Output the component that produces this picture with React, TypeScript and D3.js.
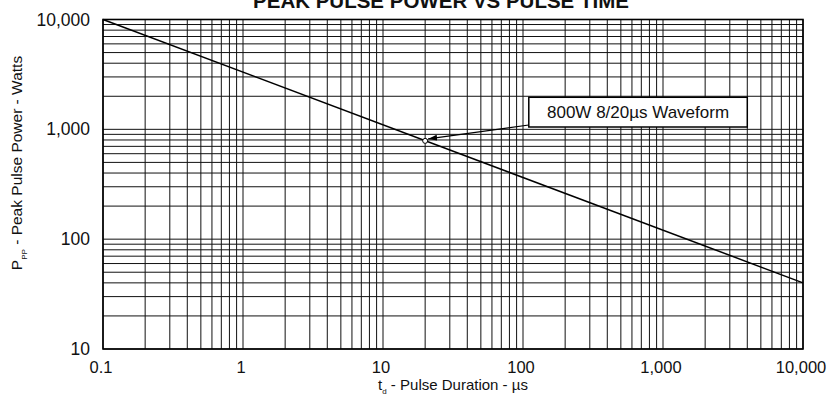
import { useRef, useEffect } from "react";
import * as d3 from "d3";

// tick values and their printed labels
const xTickValues = [0.1, 1, 10, 100, 1000, 10000];
const xTickLabels = ["0.1", "1", "10", "100", "1,000", "10,000"];
const yTickValues = [10, 100, 1000, 10000];
const yTickLabels = ["10", "100", "1,000", "10,000"];

// the derating line (pulse duration in µs, peak power in W)
const pulseTime = [0.1, 10000];
const pulsePower = [10000, 40];

// marked waveform point
const markerTime = [20];
const markerPower = [785];
const markerLabel = ["800W 8/20µs Waveform"];

export default function App() {
  const svgRef = useRef<SVGSVGElement>(null);

  useEffect(() => {
    if (!svgRef.current) return;

    const width = 828;
    const height = 403;
    const margin = { top: 19.5, right: 25, bottom: 54, left: 103 };
    const font = "'Liberation Sans', Arial, Helvetica, sans-serif";

    const svg = d3.select(svgRef.current);
    svg.selectAll("*").remove();
    svg.attr("width", width).attr("height", height).attr("viewBox", `0 0 ${width} ${height}`);

    const x = d3
      .scaleLog()
      .domain([0.1, 10000])
      .range([margin.left, width - margin.right]);
    const y = d3
      .scaleLog()
      .domain([10, 10000])
      .range([height - margin.bottom, margin.top]);

    svg.append("rect").attr("width", width).attr("height", height).attr("fill", "#fff");

    // log grid, every 1..9 of each decade
    const grid = svg.append("g").attr("stroke", "#111").attr("stroke-width", 1);
    x.ticks().forEach((t) => {
      grid
        .append("line")
        .attr("x1", x(t))
        .attr("x2", x(t))
        .attr("y1", y(10))
        .attr("y2", y(10000));
    });
    y.ticks().forEach((t) => {
      grid
        .append("line")
        .attr("x1", x(0.1))
        .attr("x2", x(10000))
        .attr("y1", y(t))
        .attr("y2", y(t));
    });

    // frame
    svg
      .append("rect")
      .attr("x", x(0.1))
      .attr("y", y(10000))
      .attr("width", x(10000) - x(0.1))
      .attr("height", y(10) - y(10000))
      .attr("fill", "none")
      .attr("stroke", "#000")
      .attr("stroke-width", 1.6);

    // tick labels
    svg
      .append("g")
      .selectAll("text")
      .data(xTickValues)
      .join("text")
      .attr("x", (d) => x(d) - 2)
      .attr("y", y(10) + 24)
      .attr("text-anchor", "middle")
      .attr("font-family", font)
      .attr("font-size", 16.5)
      .attr("fill", "#111")
      .text((d, i) => xTickLabels[i]);

    svg
      .append("g")
      .selectAll("text")
      .data(yTickValues)
      .join("text")
      .attr("x", x(0.1) - 13)
      .attr("y", (d) => y(d) + 6)
      .attr("text-anchor", "end")
      .attr("font-family", font)
      .attr("font-size", 17.5)
      .attr("fill", "#111")
      .text((d, i) => yTickLabels[i]);

    // derating line
    const lineData = pulseTime.map((t, i) => ({ t, p: pulsePower[i] }));
    svg
      .append("path")
      .datum(lineData)
      .attr("fill", "none")
      .attr("stroke", "#000")
      .attr("stroke-width", 1.5)
      .attr(
        "d",
        d3
          .line<{ t: number; p: number }>()
          .x((d) => x(d.t))
          .y((d) => y(d.p))
      );

    // marker + callout
    const mx = x(markerTime[0]);
    const my = y(markerPower[0]);
    svg
      .append("circle")
      .attr("cx", mx)
      .attr("cy", my)
      .attr("r", 2.5)
      .attr("fill", "#fff")
      .attr("stroke", "#000")
      .attr("stroke-width", 1);

    const defs = svg.append("defs");
    defs
      .append("marker")
      .attr("id", "arrowHead")
      .attr("viewBox", "0 0 12 8")
      .attr("refX", 12)
      .attr("refY", 4)
      .attr("markerWidth", 9)
      .attr("markerHeight", 6)
      .attr("markerUnits", "userSpaceOnUse")
      .attr("orient", "auto")
      .append("path")
      .attr("d", "M0,0 L12,4 L0,8 Z")
      .attr("fill", "#000");

    const boxX = x(110);
    const boxY = y(2000) + 1;
    const boxW = x(4000) - boxX;
    const boxH = y(1050) - boxY;

    svg
      .append("line")
      .attr("x1", boxX)
      .attr("y1", boxY + boxH - 2)
      .attr("x2", mx + 3)
      .attr("y2", my - 2)
      .attr("stroke", "#000")
      .attr("stroke-width", 1.2)
      .attr("marker-end", "url(#arrowHead)");

    svg
      .append("rect")
      .attr("x", boxX)
      .attr("y", boxY)
      .attr("width", boxW)
      .attr("height", boxH)
      .attr("fill", "#fff")
      .attr("stroke", "#000")
      .attr("stroke-width", 1.5);

    svg
      .append("text")
      .attr("x", boxX + boxW / 2)
      .attr("y", boxY + boxH / 2 + 6)
      .attr("text-anchor", "middle")
      .attr("font-family", font)
      .attr("font-size", 17)
      .attr("fill", "#111")
      .text(markerLabel[0]);

    // title (top is cut by the page edge)
    svg
      .append("text")
      .attr("x", 441)
      .attr("y", 8)
      .attr("text-anchor", "middle")
      .attr("font-family", font)
      .attr("font-size", 20.5)
      .attr("font-weight", "bold")
      .attr("fill", "#111")
      .text("PEAK PULSE POWER VS PULSE TIME");

    // x axis title
    const xt = svg
      .append("text")
      .attr("x", x(100) - 70)
      .attr("y", height - 13)
      .attr("text-anchor", "middle")
      .attr("font-family", font)
      .attr("font-size", 15)
      .attr("fill", "#111");
    xt.append("tspan").text("t");
    xt.append("tspan").attr("font-size", 8).attr("dy", 4).text("d");
    xt.append("tspan").attr("dy", -4).text(" - Pulse Duration - µs");

    // y axis title
    const yt = svg
      .append("text")
      .attr("transform", `translate(22, 163) rotate(-90)`)
      .attr("text-anchor", "middle")
      .attr("font-family", font)
      .attr("font-size", 15.5)
      .attr("fill", "#111");
    yt.append("tspan").text("P");
    yt.append("tspan").attr("font-size", 8).attr("dy", 5).text("PP");
    yt.append("tspan").attr("dy", -5).text(" - Peak Pulse Power - Watts");
  }, []);

  return (
    <div style={{ position: "absolute", left: 0, top: 0, width: 828, height: 403 }}>
      <svg ref={svgRef} style={{ display: "block" }} />
    </div>
  );
}
